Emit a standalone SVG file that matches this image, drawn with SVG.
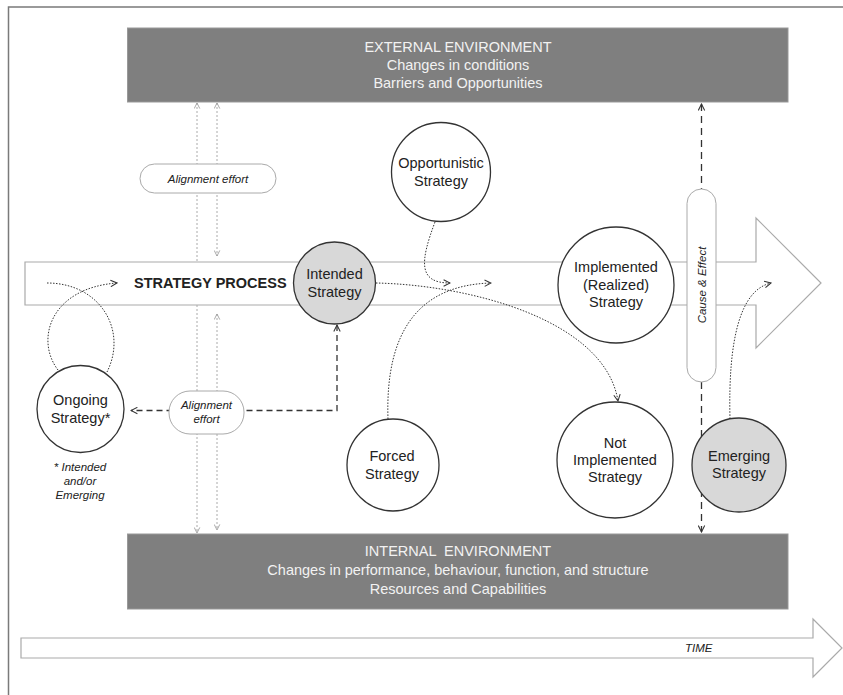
<svg xmlns="http://www.w3.org/2000/svg" width="843" height="695" viewBox="0 0 843 695">
<defs>
<style>
text{font-family:"Liberation Sans",Arial,sans-serif;fill:#222;}
.env{fill:#7f7f7f;stroke:#999;stroke-width:1;}
.envt{font-size:14.5px;fill:#f2f2f2;text-anchor:middle;}
.circ{fill:#fff;stroke:#333;stroke-width:1.3;}
.grey{fill:#d8d8d8;}
.ct{font-size:14.5px;text-anchor:middle;}
.pill{fill:#fff;stroke:#aaa;stroke-width:1;}
.it{font-style:italic;font-size:11.5px;text-anchor:middle;}
.light{fill:none;stroke:#aaa;stroke-width:1;stroke-dasharray:2,2;}
.dot{fill:none;stroke:#333;stroke-width:1;stroke-dasharray:1.5,1.5;}
.dash{fill:none;stroke:#333;stroke-width:1.3;stroke-dasharray:6,4;}
.dash2{fill:none;stroke:#333;stroke-width:1.3;stroke-dasharray:7,5;}
.bigarrow{fill:#fff;stroke:#aaa;stroke-width:1.2;}
</style>
<marker id="ad" viewBox="0 0 10 10" refX="9" refY="5" markerWidth="8" markerHeight="8" markerUnits="userSpaceOnUse" orient="auto-start-reverse">
<path d="M1,1 L9,5 L1,9" fill="none" stroke="#333" stroke-width="1.3"/>
</marker>
<marker id="al" viewBox="0 0 10 10" refX="9" refY="5" markerWidth="7" markerHeight="7" markerUnits="userSpaceOnUse" orient="auto-start-reverse">
<path d="M1,1 L9,5 L1,9" fill="none" stroke="#999" stroke-width="1.2"/>
</marker>
</defs>
<rect width="843" height="695" fill="#fff"/>
<path d="M8.5,695 L8.5,7 L843,7" fill="none" stroke="#7a7a7a" stroke-width="1.5"/>

<g id="external-environment">
<rect class="env" x="127.5" y="28" width="660.5" height="74"/>
<text class="envt" x="458" y="52">EXTERNAL ENVIRONMENT</text>
<text class="envt" x="458" y="70">Changes in conditions</text>
<text class="envt" x="458" y="88">Barriers and Opportunities</text>
</g>
<g id="internal-environment">
<rect class="env" x="127.5" y="534" width="660.5" height="75"/>
<text class="envt" x="458" y="556" xml:space="preserve">INTERNAL  ENVIRONMENT</text>
<text class="envt" x="458" y="575">Changes in performance, behaviour, function, and structure</text>
<text class="envt" x="458" y="594">Resources and Capabilities</text>
</g>
<g id="time">
<polygon class="bigarrow" points="21,638 813,638 813,619 842,648 813,677 813,658 21,658"/>
<text x="685" y="652" style="font-style:italic;font-size:11.5px;">TIME</text>
</g>
<g id="strategy-process">
<polygon class="bigarrow" points="25,262 756,262 756,218 821,283 756,348 756,305 25,305"/>
<text x="134" y="288" style="font-weight:bold;font-size:14.5px;">STRATEGY PROCESS</text>
</g>

<g id="connectors">
<path class="light" d="M197,103 L197,262 M197,305 L197,533" marker-start="url(#al)" marker-end="url(#al)"/>
<path class="light" d="M217,103 L217,256" marker-start="url(#al)" marker-end="url(#al)"/>
<path class="light" d="M217,314 L217,530" marker-start="url(#al)" marker-end="url(#al)"/>
<path class="dash2" d="M701.5,104 L701.5,189 M701.5,382 L701.5,532" marker-start="url(#ad)" marker-end="url(#ad)"/>
<path class="dash" d="M337,325 L337,410.5 L131,410.5" marker-start="url(#ad)" marker-end="url(#ad)"/>
<path class="dot" d="M47,283 C100,283 128,330 107,372"/>
<path class="dot" d="M58,370 C35,340 50,288 117,283" marker-end="url(#ad)"/>
<path class="dot" d="M376,283 C470,285 605,320 618,401" marker-end="url(#ad)"/>
<path class="dot" d="M435,222 C420,262 418,283 450,283" marker-end="url(#ad)"/>
<path class="dot" d="M388,419 C385,330 420,285 491,283" marker-end="url(#ad)"/>
<path class="dot" d="M730,419 C728,340 740,290 771,283" marker-end="url(#ad)"/>
</g>

<g id="alignment-effort-top">
<rect class="pill" x="140" y="164" width="136" height="29" rx="14.5"/>
<text class="it" x="208" y="183">Alignment effort</text>
</g>
<g id="alignment-effort-bottom">
<rect class="pill" x="169" y="391" width="75" height="43" rx="21"/>
<text class="it" x="206.5" y="409">Alignment</text>
<text class="it" x="206.5" y="423">effort</text>
</g>
<g id="cause-effect">
<rect class="pill" x="687" y="189" width="29" height="193" rx="14.5"/>
<text class="it" transform="translate(705.5,285) rotate(-90)" x="0" y="0">Cause &amp; Effect</text>
</g>
<g id="intended-strategy">
<circle class="circ grey" cx="334.5" cy="283" r="41"/>
<text class="ct" x="334.5" y="279">Intended</text>
<text class="ct" x="334.5" y="297">Strategy</text>
</g>
<g id="opportunistic-strategy">
<circle class="circ" cx="441" cy="172" r="49.5"/>
<text class="ct" x="441" y="168">Opportunistic</text>
<text class="ct" x="441" y="186">Strategy</text>
</g>
<g id="implemented-strategy">
<circle class="circ" cx="616" cy="285" r="58"/>
<text class="ct" x="616" y="272">Implemented</text>
<text class="ct" x="616" y="290">(Realized)</text>
<text class="ct" x="616" y="307">Strategy</text>
</g>
<g id="not-implemented-strategy">
<circle class="circ" cx="615" cy="460" r="58"/>
<text class="ct" x="615" y="448">Not</text>
<text class="ct" x="615" y="465">Implemented</text>
<text class="ct" x="615" y="482">Strategy</text>
</g>
<g id="forced-strategy">
<circle class="circ" cx="393" cy="465" r="46"/>
<text class="ct" x="392" y="461">Forced</text>
<text class="ct" x="392" y="479">Strategy</text>
</g>
<g id="emerging-strategy">
<circle class="circ grey" cx="739" cy="465" r="47"/>
<text class="ct" x="739" y="461">Emerging</text>
<text class="ct" x="739" y="478">Strategy</text>
</g>
<g id="ongoing-strategy">
<circle class="circ" cx="80.5" cy="409" r="43.5"/>
<text class="ct" x="80.5" y="405">Ongoing</text>
<text class="ct" x="80.5" y="423">Strategy*</text>
</g>
<g id="footnote">
<text class="it" x="80" y="471">* Intended</text>
<text class="it" x="80" y="485">and/or</text>
<text class="it" x="80" y="499">Emerging</text>
</g>
</svg>
